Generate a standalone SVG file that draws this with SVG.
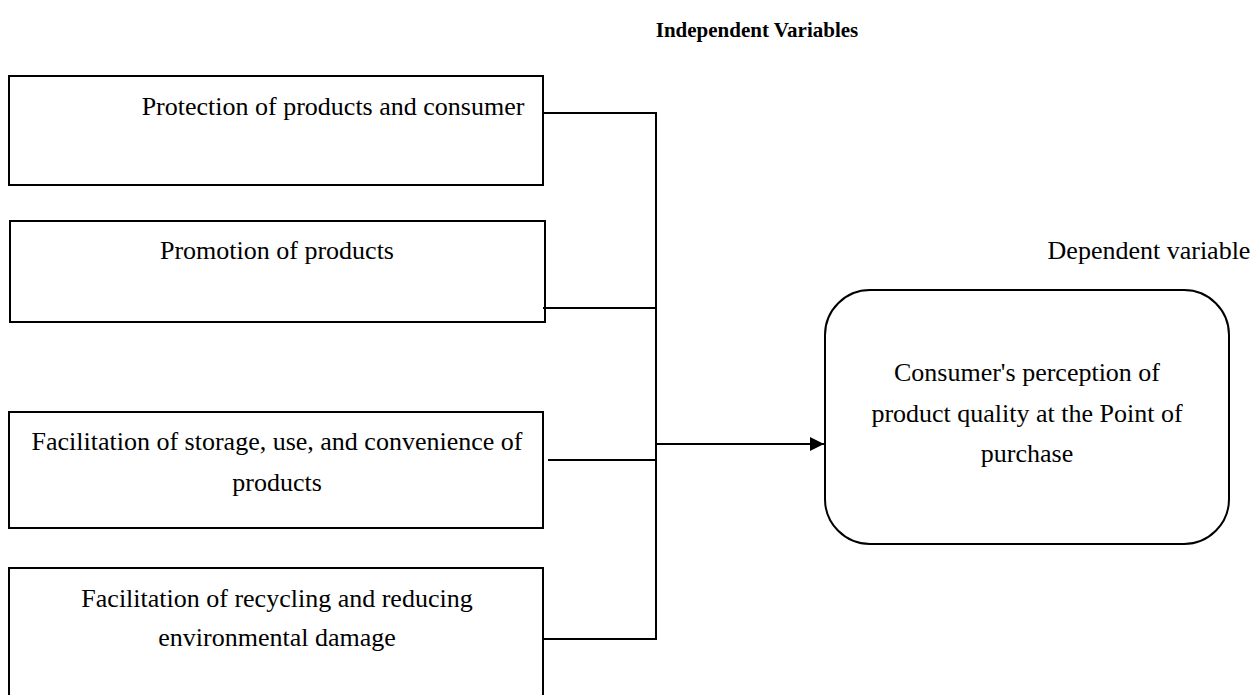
<svg xmlns="http://www.w3.org/2000/svg" width="1254" height="695" viewBox="0 0 1254 695">
<defs>
<style>
.box{fill:#fff;stroke:#000;stroke-width:2}
.t{font-family:"Liberation Serif","Times New Roman",serif;font-size:26px;fill:#000;text-anchor:middle}
.h{font-family:"Liberation Serif","Times New Roman",serif;font-size:21px;font-weight:bold;fill:#000;text-anchor:middle}
.c{fill:none;stroke:#000;stroke-width:2}
</style>
<marker id="arr" viewBox="0 0 10 10" refX="10" refY="5" markerWidth="16" markerHeight="14" markerUnits="userSpaceOnUse" orient="auto">
<path d="M0,0 L10,5 L0,10 Z" fill="#000"/>
</marker>
</defs>
<rect width="1254" height="695" fill="#fff"/>
<text class="h" x="757" y="37">Independent Variables</text>
<text class="t" x="1149" y="259">Dependent variable</text>
<g id="n1">
<rect class="box" x="9" y="76" width="534" height="109"/>
<text class="t" x="333" y="115">Protection of products and consumer</text>
</g>
<g id="n2">
<rect class="box" x="10" y="221" width="535" height="101"/>
<text class="t" x="277" y="259">Promotion of products</text>
</g>
<g id="n3">
<rect class="box" x="9" y="412" width="534" height="116"/>
<text class="t" x="277" y="450">Facilitation of storage, use, and convenience of</text>
<text class="t" x="277" y="491">products</text>
</g>
<g id="n4">
<rect class="box" x="9" y="568" width="534" height="140"/>
<text class="t" x="277" y="607">Facilitation of recycling and reducing</text>
<text class="t" x="277" y="646">environmental damage</text>
</g>
<g id="n5">
<rect class="box" x="825" y="290" width="404" height="254" rx="45" ry="45"/>
<text class="t" x="1027" y="381">Consumer's perception of</text>
<text class="t" x="1027" y="422">product quality at the Point of</text>
<text class="t" x="1027" y="462">purchase</text>
</g>
<g id="connectors">
<path class="c" d="M543,113 H656"/>
<path class="c" d="M543,308 H655"/>
<path class="c" d="M548,460 H657"/>
<path class="c" d="M543,639 H655"/>
<path class="c" d="M656,112 V640"/>
<path class="c" d="M655,444 H824" marker-end="url(#arr)"/>
</g>
</svg>
